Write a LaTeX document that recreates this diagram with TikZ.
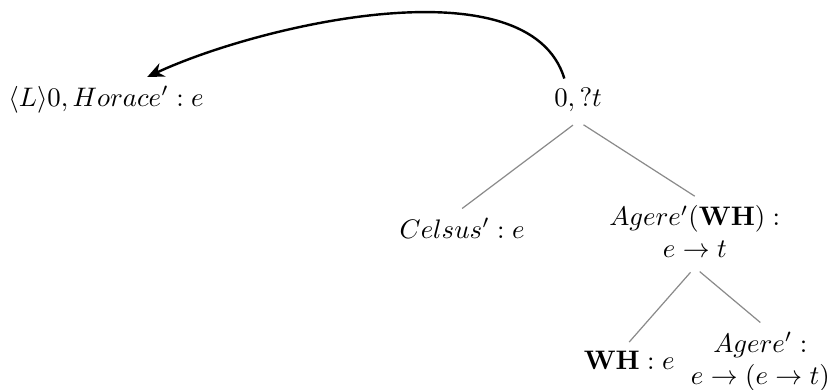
\documentclass[tikz,border=0pt]{standalone}
\usepackage{xcolor}
\usepackage{amsmath,amssymb}
\usepackage{tikz}
\usetikzlibrary{arrows.meta,positioning}
\definecolor{EdgeGray}{HTML}{8A8A8A}

\begin{document}
\begin{tikzpicture}[
    term/.style={align=center},
    branch/.style={draw=EdgeGray, line width=0.45pt, shorten <=2.4pt},
    link/.style={-{Stealth[length=2.2mm,width=1.9mm]}, line width=0.9pt}
]
\useasboundingbox (0,0) rectangle (10.87,5.11);
\node[term] (horace) at (1.39,3.80) {$\langle L\rangle 0, Horace' : e$};
\node[term] (top) at (7.58,3.80) {$0, ?t$};
\node[term] (celsus) at (6.06,2.12) {$Celsus' : e$};
\node[term] (agere) at (9.11,2.07) {$Agere'(\mathbf{WH}) :$\\$e \rightarrow t$};
\node[term] (wh) at (8.25,0.38) {$\mathbf{WH} : e$};
\node[term] (agerefn) at (9.97,0.37) {$Agere' :$\\$e \rightarrow (e \rightarrow t)$};
\draw[branch] (top.south) -- (celsus.north);
\draw[branch] (top.south) -- (agere.north);
\draw[branch] (agere.south) -- (wh.north);
\draw[branch] (agere.south) -- (agerefn.north);
\draw[link] ([xshift=-0.18cm]top.north) to[out=107, in=25, looseness=0.75] ([xshift=0.54cm]horace.north);
\end{tikzpicture}
\end{document}
